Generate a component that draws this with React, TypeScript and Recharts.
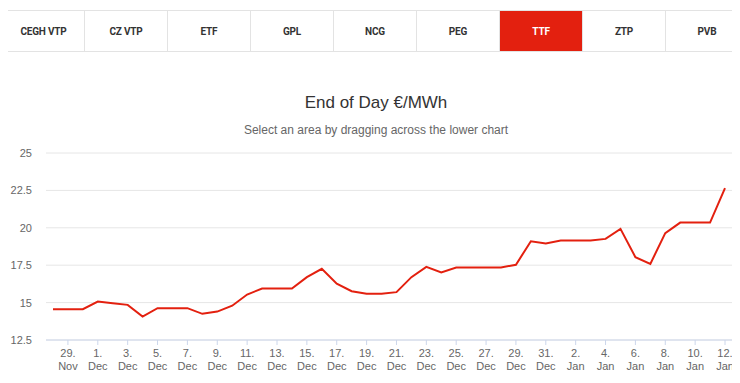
import { LineChart, Line, XAxis, YAxis, CartesianGrid } from 'recharts'

const hubs = ['CEGH VTP', 'CZ VTP', 'ETF', 'GPL', 'NCG', 'PEG', 'TTF', 'ZTP', 'PVB']
const activeHub = 'TTF'

const dates = [
  '28. Nov', '29. Nov', '30. Nov',
  '1. Dec', '2. Dec', '3. Dec', '4. Dec', '5. Dec', '6. Dec', '7. Dec', '8. Dec', '9. Dec', '10. Dec',
  '11. Dec', '12. Dec', '13. Dec', '14. Dec', '15. Dec', '16. Dec', '17. Dec', '18. Dec', '19. Dec', '20. Dec',
  '21. Dec', '22. Dec', '23. Dec', '24. Dec', '25. Dec', '26. Dec', '27. Dec', '28. Dec', '29. Dec', '30. Dec',
  '31. Dec', '1. Jan', '2. Jan', '3. Jan', '4. Jan', '5. Jan', '6. Jan', '7. Jan', '8. Jan', '9. Jan',
  '10. Jan', '11. Jan', '12. Jan',
]

const prices = [
  14.56, 14.56, 14.56,
  15.07, 14.96, 14.85, 14.07, 14.63, 14.63, 14.63, 14.25, 14.4, 14.79,
  15.54, 15.94, 15.94, 15.94, 16.7, 17.26, 16.26, 15.76, 15.59, 15.59,
  15.7, 16.7, 17.39, 17.01, 17.35, 17.35, 17.35, 17.35, 17.53, 19.1,
  18.95, 19.15, 19.15, 19.15, 19.26, 19.93, 18.04, 17.59, 19.64, 20.35,
  20.35, 20.35, 22.65,
]

const yTicks = [12.5, 15, 17.5, 20, 22.5, 25]
const xTicks = dates.filter((_, i) => i % 2 === 1)

const data = dates.map((d, i) => ({ date: d, price: prices[i] }))

const RED = '#e3200f'
const font = '"Liberation Sans", Arial, sans-serif'

function DateTick({ x, y, payload }: any) {
  const [day, month] = String(payload.value).split(' ')
  return (
    <g transform={`translate(${x},${y})`}>
      <text textAnchor="middle" fill="#666" fontSize={11} fontFamily={font}>
        <tspan x={0} dy={10}>{day}</tspan>
        <tspan x={0} dy={12.5}>{month}</tspan>
      </text>
    </g>
  )
}

export default function App() {
  return (
    <div style={{ position: 'relative', width: 740, height: 383, margin: -8, overflow: 'hidden', background: '#fff' }}>
      <div
        style={{
          position: 'absolute', left: 2, top: 10, height: 42, display: 'flex',
          border: '1px solid #e3e3e3', borderRadius: '4px 0 0 4px', boxSizing: 'border-box',
        }}
      >
        {hubs.map((h, i) => (
          <div
            key={h}
            style={{
              width: i === 0 ? 81 : 83, flexShrink: 0, height: '100%', display: 'flex', alignItems: 'center', justifyContent: 'center',
              borderLeft: i === 0 ? 'none' : '1px solid #e3e3e3', boxSizing: 'border-box',
              background: h === activeHub ? RED : '#fff', color: h === activeHub ? '#fff' : '#333',
              fontFamily: 'Roboto, sans-serif', fontWeight: 700, fontSize: 10, letterSpacing: -0.2,
            }}
          >
            {h}
          </div>
        ))}
      </div>

      <div style={{ position: 'absolute', left: 0, width: 752, top: 93, textAlign: 'center', fontFamily: font, fontSize: 17, color: '#333' }}>
        End of Day €/MWh
      </div>
      <div style={{ position: 'absolute', left: 0, width: 752, top: 123, textAlign: 'center', fontFamily: font, fontSize: 12, color: '#666' }}>
        Select an area by dragging across the lower chart
      </div>

      <div style={{ position: 'absolute', left: 0, top: 0 }}>
        <LineChart width={740} height={383} data={data} margin={{ top: 153, right: 8, bottom: 0, left: 0 }}>
          <CartesianGrid vertical={false} stroke="#e6e6e6" />
          <XAxis
            dataKey="date"
            ticks={xTicks}
            interval={0}
            padding={{ left: 7, right: 7 }}
            stroke="#ccd6eb"
            tickSize={5}
            tickMargin={2}
            tick={<DateTick />}
            height={43}
          />
          <YAxis
            domain={[12.5, 25]}
            ticks={yTicks}
            axisLine={false}
            tickLine={false}
            tickSize={6}
            tickMargin={8}
            width={46}
            tick={{ fill: '#666', fontSize: 11, fontFamily: font }}
          />
          <Line
            type="linear"
            dataKey="price"
            stroke={RED}
            strokeWidth={2}
            dot={false}
            activeDot={false}
            isAnimationActive={false}
          />
        </LineChart>
      </div>
    </div>
  )
}
